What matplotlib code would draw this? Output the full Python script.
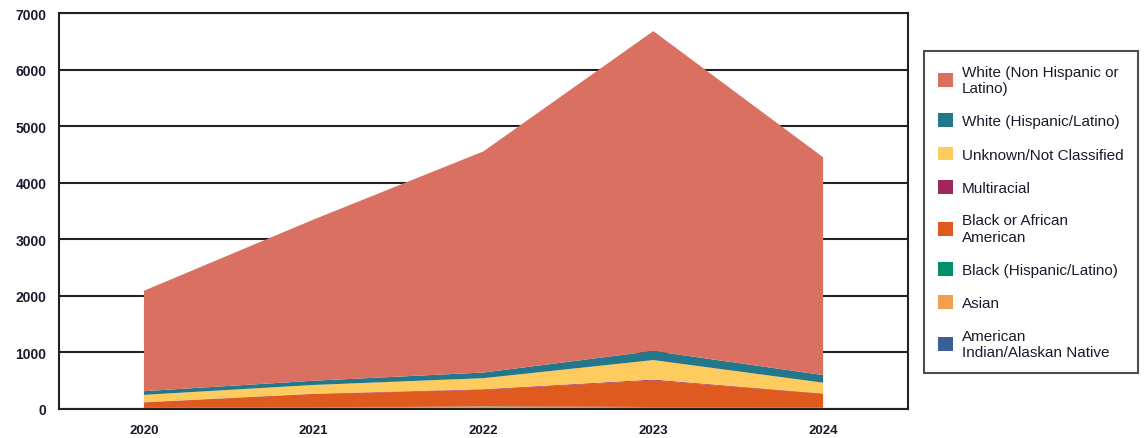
import matplotlib
matplotlib.use("Agg")
import matplotlib.pyplot as plt
from matplotlib.patches import Patch
import numpy as np

plt.rcParams['font.family'] = ['Liberation Sans', 'DejaVu Sans']

years = ["2020", "2021", "2022", "2023", "2024"]
american_indian = [5, 5, 10, 10, 5]
asian = [10, 15, 30, 15, 10]
black_hispanic = [5, 5, 5, 10, 10]
black = [95, 240, 295, 470, 245]
multiracial = [5, 5, 10, 15, 5]
unknown = [130, 155, 195, 345, 190]
white_hispanic = [65, 75, 100, 160, 135]
white_non_hispanic = [1775, 2850, 3910, 5655, 3850]

series = [
    ("American\nIndian/Alaskan Native", american_indian, "#3A5F96"),
    ("Asian", asian, "#F0A050"),
    ("Black (Hispanic/Latino)", black_hispanic, "#008E6B"),
    ("Black or African\nAmerican", black, "#E05A20"),
    ("Multiracial", multiracial, "#A0265E"),
    ("Unknown/Not Classified", unknown, "#FDCB5E"),
    ("White (Hispanic/Latino)", white_hispanic, "#24768A"),
    ("White (Non Hispanic or\nLatino)", white_non_hispanic, "#D97061"),
]

fig = plt.figure(figsize=(11.44, 4.39), dpi=100)
ax = fig.add_axes([59/1144, 1-410/439, (908-59)/1144, (410-14)/439])

x = np.arange(len(years))
ax.stackplot(x, *[s[1] for s in series], colors=[s[2] for s in series], linewidth=0)

ax.set_xlim(-0.5, 4.5)
ax.set_ylim(0, 7000)
ax.set_yticks(range(0, 7001, 1000))
ax.set_xticks(x)
ax.set_xticklabels(years)
ax.grid(axis='y', color='#222222', linewidth=1.5)
ax.set_axisbelow(True)
for sp in ax.spines.values():
    sp.set_color('#222222')
    sp.set_linewidth(1.5)
ax.tick_params(axis='y', length=0, labelsize=10, pad=9)
ax.tick_params(axis='x', length=0, labelsize=9.5, pad=10.5)
for lab in ax.get_xticklabels() + ax.get_yticklabels():
    lab.set_fontweight('bold')
    lab.set_color('#1a1a2e')

handles = [Patch(facecolor=s[2], edgecolor='none', label=s[0]) for s in reversed(series)]
leg = fig.legend(handles=handles, loc='upper left',
                 bbox_to_anchor=(924/1144, 1-52/439), frameon=True,
                 fontsize=11, handlelength=1.0, handleheight=1.0,
                 labelspacing=1.2, borderpad=0.9, handletextpad=0.6,
                 borderaxespad=0, fancybox=False)
leg.get_frame().set_edgecolor('#222222')
leg.get_frame().set_linewidth(1.5)
for t in leg.get_texts():
    t.set_color('#1a1a2e')

fig.savefig("out.png", dpi=100)
